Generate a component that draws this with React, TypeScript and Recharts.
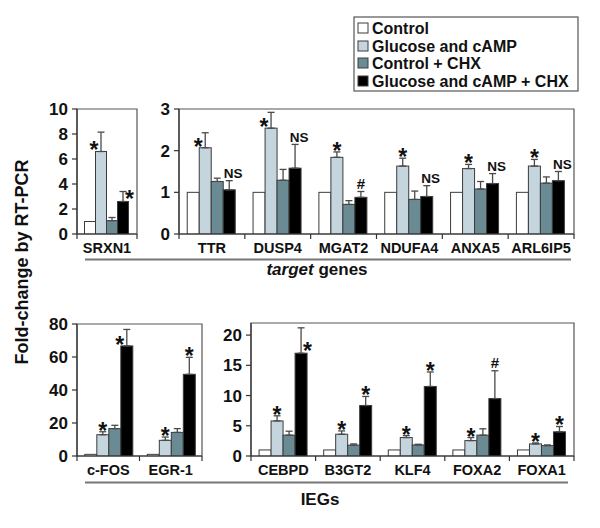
import React from 'react';
import { BarChart, Bar, XAxis, YAxis, ErrorBar, ReferenceArea } from 'recharts';

const FONT = 'Liberation Sans, Arial, Helvetica, sans-serif';

// Series
const SERIES_NAMES = ['Control', 'Glucose and cAMP', 'Control + CHX', 'Glucose and cAMP + CHX'];
const SERIES_KEYS = ['ctrl', 'glc', 'chx', 'both'];
const SERIES_COLORS = ['#ffffff', '#c5d5de', '#6b8b94', '#000000'];

// Panel 1: SRXN1
const srxnGenes = ['SRXN1'];
const srxnCtrl = [1];
const srxnGlc = [6.6];
const srxnGlcErr = [1.55];
const srxnChx = [1.07];
const srxnChxErr = [0.25];
const srxnBoth = [2.6];
const srxnBothErr = [0.8];
const srxnGlcMark = ['*'];
const srxnBothMark = ['*'];
const srxnTicks = [0, 2, 4, 6, 8, 10];

// Panel 2: other target genes
const targetGenes = ['TTR', 'DUSP4', 'MGAT2', 'NDUFA4', 'ANXA5', 'ARL6IP5'];
const targetCtrl = [1, 1, 1, 1, 1, 1];
const targetGlc = [2.07, 2.54, 1.84, 1.63, 1.57, 1.63];
const targetGlcErr = [0.36, 0.38, 0.13, 0.19, 0.1, 0.16];
const targetChx = [1.26, 1.29, 0.71, 0.83, 1.08, 1.22];
const targetChxErr = [0.08, 0.26, 0.09, 0.2, 0.18, 0.15];
const targetBoth = [1.06, 1.58, 0.88, 0.9, 1.21, 1.28];
const targetBothErr = [0.22, 0.57, 0.14, 0.26, 0.24, 0.22];
const targetGlcMark = ['*', '*', '*', '*', '*', '*'];
const targetBothMark = ['NS', 'NS', '#', 'NS', 'NS', 'NS'];
const targetTicks = [0, 1, 2, 3];

// Panel 3: c-FOS, EGR-1
const iegAGenes = ['c-FOS', 'EGR-1'];
const iegACtrl = [1, 1];
const iegAGlc = [12.9, 9.5];
const iegAGlcErr = [1.8, 2.0];
const iegAChx = [16.6, 14.3];
const iegAChxErr = [2.0, 2.3];
const iegABoth = [66.7, 49.5];
const iegABothErr = [10.0, 10.3];
const iegAGlcMark = ['*', '*'];
const iegABothMark = ['*', '*'];
const iegATicks = [0, 20, 40, 60, 80];

// Panel 4: other IEGs
const iegBGenes = ['CEBPD', 'B3GT2', 'KLF4', 'FOXA2', 'FOXA1'];
const iegBCtrl = [1, 1, 1, 1, 1];
const iegBGlc = [5.8, 3.6, 3.05, 2.55, 2.0];
const iegBGlcErr = [0.85, 0.55, 0.33, 0.5, 0.16];
const iegBChx = [3.45, 1.8, 1.83, 3.45, 1.72];
const iegBChxErr = [0.65, 0.2, 0.11, 1.05, 0.11];
const iegBBoth = [17.0, 8.35, 11.5, 9.5, 4.0];
const iegBBothErr = [4.2, 1.5, 2.4, 4.6, 0.88];
const iegBGlcMark = ['*', '*', '*', '*', '*'];
const iegBBothMark = ['*', '*', '*', '#', '*'];
const iegBTicks = [0, 5, 10, 15, 20];

// Marks drawn beside (not above) the error bar
const MARK_SIDE: Record<string, 'left' | 'right'> = {
  'SRXN1:glc': 'left',
  'SRXN1:both': 'right',
  'TTR:glc': 'left',
  'DUSP4:glc': 'left',
  'c-FOS:both': 'left',
  'CEBPD:both': 'right',
};

function buildRows(genes: string[], ctrl: number[], glc: number[], glcErr: number[], chx: number[], chxErr: number[], both: number[], bothErr: number[], glcMark: string[], bothMark: string[]) {
  return genes.map((g, i) => ({
    gene: g,
    ctrl: ctrl[i],
    glc: glc[i],
    chx: chx[i],
    both: both[i],
    glcErr: [0, glcErr[i]],
    chxErr: [0, chxErr[i]],
    bothErr: [0, bothErr[i]],
    glcMark: glcMark[i],
    bothMark: bothMark[i],
  }));
}

const X_AXIS_H = 24;

const PANELS = [
  {
    rows: buildRows(srxnGenes, srxnCtrl, srxnGlc, srxnGlcErr, srxnChx, srxnChxErr, srxnBoth, srxnBothErr, srxnGlcMark, srxnBothMark),
    ticks: srxnTicks, max: 10,
    box: { left: 30, top: 100, width: 110, height: 158 },
    margin: { top: 9, right: 3, bottom: 0, left: 7 }, yw: 40,
  },
  {
    rows: buildRows(targetGenes, targetCtrl, targetGlc, targetGlcErr, targetChx, targetChxErr, targetBoth, targetBothErr, targetGlcMark, targetBothMark),
    ticks: targetTicks, max: 3,
    box: { left: 140, top: 100, width: 440, height: 158 },
    margin: { top: 9, right: 6, bottom: 0, left: 7 }, yw: 32,
  },
  {
    rows: buildRows(iegAGenes, iegACtrl, iegAGlc, iegAGlcErr, iegAChx, iegAChxErr, iegABoth, iegABothErr, iegAGlcMark, iegABothMark),
    ticks: iegATicks, max: 80,
    box: { left: 30, top: 315, width: 175, height: 165 },
    margin: { top: 9, right: 3, bottom: 0, left: 7 }, yw: 40,
  },
  {
    rows: buildRows(iegBGenes, iegBCtrl, iegBGlc, iegBGlcErr, iegBChx, iegBChxErr, iegBBoth, iegBBothErr, iegBGlcMark, iegBBothMark),
    ticks: iegBTicks, max: 22,
    box: { left: 205, top: 315, width: 375, height: 165 },
    margin: { top: 8, right: 6, bottom: 0, left: 7 }, yw: 39,
  },
];

const makeShape = (key: string) => (props: any) => {
  const { x, y, width, height, fill, payload } = props;
  if (x == null || y == null) return <g />;
  const value = payload ? payload[key] : 0;
  const unit = value ? height / value : 0;
  const errArr = payload ? payload[key + 'Err'] : null;
  const err = errArr && key !== 'ctrl' ? errArr[1] : 0;
  const topY = y - err * unit;
  const cx = x + width / 2;
  const mark = payload ? payload[key + 'Mark'] : undefined;
  let label: any = null;
  if (mark) {
    const side = MARK_SIDE[payload.gene + ':' + key];
    if (mark === '*') {
      const fs = 23;
      let tx = cx;
      let ty = topY - 2 + 0.39 * fs;
      if (side === 'left') {
        tx = cx - 7;
        ty = y - 6 + 0.56 * fs;
      } else if (side === 'right') {
        tx = cx + 6.5;
        ty = y - 7 + 0.56 * fs;
      }
      label = (
        <text x={tx} y={ty} textAnchor="middle" fontSize={fs} fontWeight="bold" fontFamily={FONT} fill="#111">*</text>
      );
    } else {
      const fs = mark === '#' ? 15 : 13.5;
      label = (
        <text x={cx + (mark === 'NS' ? 4 : 0)} y={topY - 2.5} textAnchor="middle" fontSize={fs} fontWeight="bold" fontFamily={FONT} fill="#111">{mark}</text>
      );
    }
  }
  return (
    <g>
      <rect x={x} y={y} width={width} height={Math.max(height, 0)} fill={fill} stroke="#3c3c3c" strokeWidth={1} />
      {label}
    </g>
  );
};

// Category tick: gene name at band centre, short tick marks at band edges.
const GeneTick = (props: any) => {
  const { x, payload, index, axisY, band, count } = props;
  const half = band / 2;
  return (
    <g>
      <line x1={x - half} y1={axisY} x2={x - half} y2={axisY + 5} stroke="#333" strokeWidth={1.2} />
      {index === count - 1 ? (
        <line x1={x + half} y1={axisY} x2={x + half} y2={axisY + 5} stroke="#333" strokeWidth={1.2} />
      ) : null}
      <text x={x} y={axisY + 19} textAnchor="middle" fontSize={14.5} fontWeight="bold" fontFamily={FONT} fill="#111">{payload.value}</text>
    </g>
  );
};

function Panel({ p }: { p: any }) {
  const n = p.rows.length;
  const axisY = p.box.height - p.margin.bottom - X_AXIS_H;
  const plotW = p.box.width - p.margin.left - p.margin.right - p.yw;
  const band = plotW / n;
  return (
    <div style={{ position: 'absolute', left: p.box.left, top: p.box.top }}>
      <BarChart width={p.box.width} height={p.box.height} data={p.rows} margin={p.margin} barCategoryGap="12.5%" barGap={0}>
        <XAxis
          dataKey="gene"
          interval={0}
          tickLine={false}
          height={X_AXIS_H}
          axisLine={{ stroke: '#333', strokeWidth: 1.2 }}
          tick={<GeneTick axisY={axisY} band={band} count={n} />}
        />
        <YAxis
          type="number"
          domain={[0, p.max]}
          ticks={p.ticks}
          interval={0}
          allowDataOverflow
          width={p.yw}
          tickSize={5}
          tickMargin={4}
          axisLine={{ stroke: '#333', strokeWidth: 1.2 }}
          tickLine={{ stroke: '#333', strokeWidth: 1.2 }}
          tick={{ fontSize: 17, fontWeight: 'bold', fill: '#111', fontFamily: FONT }}
        />
        <ReferenceArea y1={0} y2={p.max} fill="none" stroke="#555" strokeWidth={1.2} ifOverflow="visible" />
        {SERIES_KEYS.map((k, i) => (
          <Bar key={k} dataKey={k} name={SERIES_NAMES[i]} fill={SERIES_COLORS[i]} isAnimationActive={false} shape={makeShape(k)}>
            {k !== 'ctrl' ? (
              <ErrorBar dataKey={k + 'Err'} direction="y" width={3.5} stroke="#4a4a4a" strokeWidth={1.3} />
            ) : null}
          </Bar>
        ))}
      </BarChart>
    </div>
  );
}

function Overlay() {
  const rowY = [28, 46, 63, 81];
  return (
    <svg width={600} height={528} style={{ position: 'absolute', left: 0, top: 0 }}>
      {/* legend */}
      <rect x={354} y={17} width={224} height={74} fill="#fff" stroke="#555" strokeWidth={1.2} />
      {SERIES_NAMES.map((s, i) => (
        <g key={s}>
          <rect x={358} y={rowY[i] - 5} width={10} height={10} fill={SERIES_COLORS[i]} stroke="#3c3c3c" strokeWidth={1} />
          <text x={372} y={rowY[i] + 5.5} fontSize={16} fontWeight="bold" fontFamily={FONT} fill="#111">{s}</text>
        </g>
      ))}
      {/* group underlines and titles */}
      <line x1={85} y1={259.5} x2={571} y2={259.5} stroke="#777" strokeWidth={2} />
      <text x={317} y={275} textAnchor="middle" fontSize={17} fontWeight="bold" fontFamily={FONT} fill="#111">
        <tspan fontStyle="italic">target</tspan> genes
      </text>
      <line x1={85} y1={482.5} x2={568} y2={482.5} stroke="#777" strokeWidth={2} />
      <text x={320} y={505} textAnchor="middle" fontSize={17} fontWeight="bold" fontFamily={FONT} fill="#111">IEGs</text>
      {/* y label */}
      <text
        x={0}
        y={0}
        transform="translate(28,262) rotate(-90)"
        textAnchor="middle"
        fontSize={18}
        fontWeight="bold"
        fontFamily={FONT}
        fill="#111"
      >
        Fold-change by RT-PCR
      </text>
    </svg>
  );
}

export default function App() {
  return (
    <div style={{ position: 'absolute', left: 0, top: 0, width: 600, height: 528, background: '#fff', overflow: 'hidden' }}>
      <Overlay />
      {PANELS.map((p, i) => (
        <Panel key={i} p={p} />
      ))}
    </div>
  );
}
